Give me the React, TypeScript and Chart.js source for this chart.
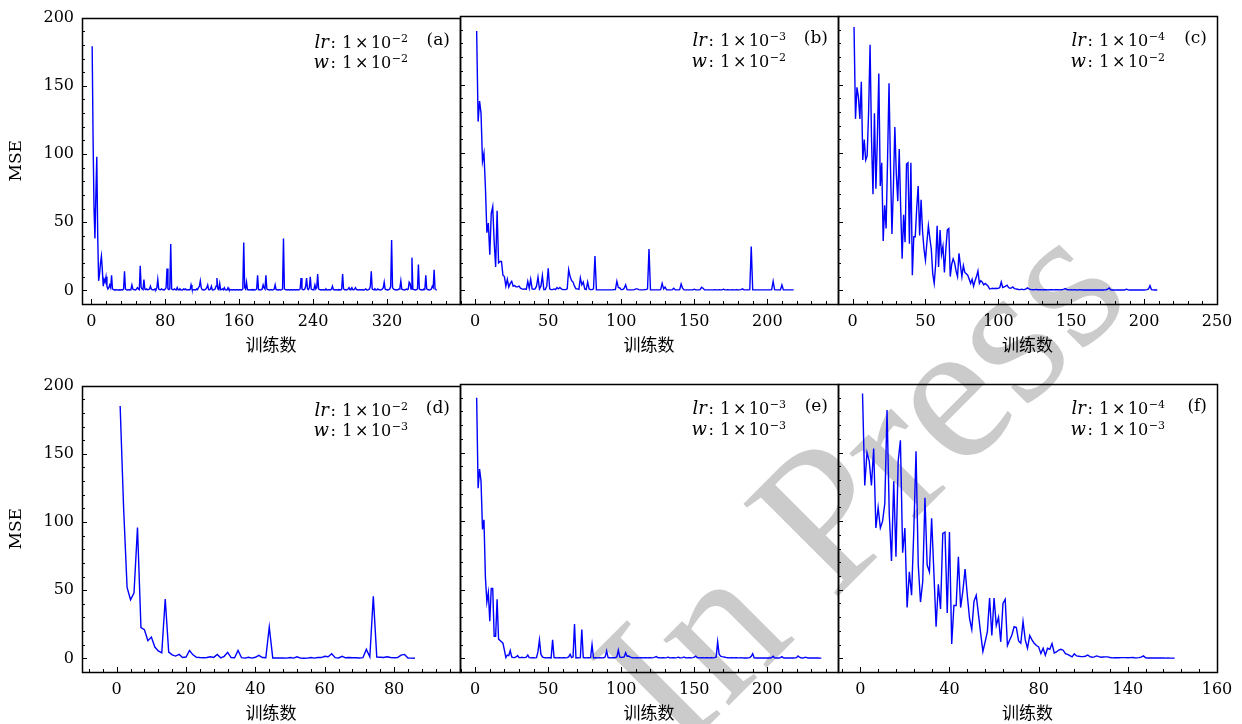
import React, { useEffect, useRef } from 'react';
import { Chart, registerables } from 'chart.js';
Chart.register(...registerables);

// ------------------------- data -------------------------
const mseA = [
  179, 110, 60, 38, 70, 98, 40, 7, 12, 20, 25, 15, 3, 8, 6, 10, 3, 1, 2, 4,
  2, 11, 1, 0.5, 0.3, 0.4, 0.3, 0.5, 0.2, 0.3, 0.4, 0.3, 0.5, 0.3, 1, 14, 1, 0.4, 0.3, 0.5,
  0.3, 0.4, 1, 4, 1, 0.5, 0.4, 0.3, 1, 2, 1, 0.5, 18, 2, 1, 0.5, 8, 1, 0.5, 1,
  0.4, 0.5, 1, 3, 1, 0.4, 0.5, 0.3, 1, 0.5, 2, 8, 1, 0.5, 0.4, 1, 0.5, 0.4, 0.3, 1,
  2, 16, 1, 0.5, 1, 34, 1, 0.5, 0.4, 1, 0.5, 0.3, 2, 0.4, 0.5, 1, 0.5, 0.3, 0.4, 1,
  0.5, 1, 0.4, 0.3, 0.5, 0.4, 0.5, 4, 1, 0.3, 0.5, 0.4, 0.3, 1, 0.5, 2, 3, 7, 2, 0.5,
  0.4, 0.3, 0.5, 1, 2, 4, 0.5, 0.4, 1, 3, 0.4, 0.3, 0.5, 1, 3, 9, 1, 0.5, 5, 0.4,
  0.5, 1, 0.4, 2, 0.5, 0.3, 0.4, 2, 0.5, 0.3, 0.4, 0.5, 0.3, 0.4, 0.5, 0.3, 0.4, 0.5, 0.3, 0.4,
  0.5, 0.3, 0.4, 1, 35, 2, 1, 6, 0.5, 0.4, 0.3, 0.5, 0.4, 0.3, 0.5, 0.4, 0.3, 0.5, 1, 11,
  0.5, 0.4, 0.3, 0.5, 1, 4, 2, 1, 11, 1, 0.5, 0.4, 0.3, 0.5, 0.4, 0.3, 0.5, 1, 4, 0.5,
  0.4, 0.3, 0.5, 0.4, 0.3, 0.5, 1, 38, 1, 0.5, 0.4, 0.3, 0.5, 0.4, 0.3, 0.5, 0.4, 0.3, 0.5, 0.4,
  0.3, 0.5, 0.4, 0.3, 0.5, 1, 9, 1, 0.5, 0.4, 1, 3, 9, 1, 0.5, 2, 10, 1, 0.5, 0.4,
  1, 4, 1, 2, 12, 1, 0.5, 0.4, 0.3, 0.5, 0.4, 0.3, 0.5, 1, 0.4, 0.3, 0.5, 0.4, 0.3, 1,
  3, 0.5, 0.4, 0.3, 0.5, 0.4, 0.3, 0.5, 0.4, 0.3, 1, 12, 1, 0.5, 0.4, 0.3, 0.5, 1, 2, 0.5,
  1, 2, 0.5, 0.4, 1, 2, 0.5, 0.4, 0.3, 0.5, 0.4, 0.3, 0.5, 0.4, 0.3, 0.5, 1, 0.4, 0.3, 0.5,
  1, 3, 14, 1, 0.5, 0.4, 1, 0.5, 0.3, 1, 0.5, 0.4, 0.3, 0.5, 1, 2, 6, 1, 0.5, 0.4,
  0.3, 0.5, 1, 3, 37, 2, 1, 0.5, 0.4, 0.3, 0.5, 0.4, 1, 2, 7, 1, 0.5, 0.4, 0.3, 0.5,
  1, 0.5, 1, 6, 5, 1, 24, 1, 0.5, 0.4, 0.3, 0.5, 1, 19, 1, 0.5, 0.4, 0.3, 0.5, 1,
  1, 11, 1, 0.5, 0.4, 0.3, 0.5, 1, 3, 2, 15, 1, 0.5,
];

const mseB = [
  189, 123, 138, 129, 94, 100, 75, 42, 49, 26, 56, 61, 35, 17, 58, 20, 21, 21, 11, 10,
  3, 8, 2.4, 5, 6.5, 3, 3.5, 2.5, 2.5, 3, 1.5, 1, 0.8, 1, 0.7, 6.5, 1.5, 8, 1, 0.8,
  1, 3, 9.5, 1, 3, 10.7, 0.5, 0.5, 3, 16, 1, 0.5, 0.5, 1, 0.5, 2, 1, 2, 1, 0.5,
  0.5, 0.5, 1, 15, 10, 7, 6, 3, 1, 1, 0.7, 9, 4, 6, 1, 0.5, 6, 1, 0.5, 0.5,
  1, 25, 0.3, 0.3, 0.3, 0.3, 0.3, 0.3, 0.3, 0.3, 0.3, 0.3, 0.3, 0.3, 0.5, 0.5, 6.6, 2, 1.7, 0.5,
  0.5, 1.5, 4, 0.5, 0.3, 0.3, 0.3, 0.3, 0.5, 1, 1, 0.5, 0.3, 0.3, 0.3, 0.5, 0.5, 1, 30, 0.3,
  0.3, 0.3, 0.3, 0.3, 0.3, 0.3, 0.5, 5, 1, 2.4, 0.3, 0.3, 0.3, 0.3, 0.5, 1.5, 0.3, 0.3, 0.3, 0.5,
  4.6, 1.5, 0.3, 0.3, 0.3, 0.3, 0.3, 0.3, 0.3, 0.8, 0.3, 0.3, 0.3, 0.5, 2.2, 1.5, 0.3, 0.3, 0.3, 0.3,
  0.3, 0.3, 0.3, 0.5, 0.3, 0.3, 0.5, 0.3, 0.3, 0.8, 0.3, 0.3, 0.5, 0.3, 0.3, 0.5, 0.3, 0.3, 0.5, 0.3,
  0.3, 0.5, 1, 0.3, 0.3, 0.3, 0.3, 0.5, 32, 0.3, 0.3, 0.3, 0.3, 0.3, 0.3, 0.3, 0.3, 0.3, 0.3, 0.3,
  0.3, 0.3, 0.5, 6.6, 0.5, 0.3, 0.3, 0.3, 0.3, 3.9, 0.3, 0.3, 0.3, 0.3, 0.3, 0.3, 0.3, 0.3,
];

const mseC = [
  192, 125, 148, 141, 125, 152, 95, 110, 95, 98, 130, 179, 110, 70, 129, 74, 110, 158, 76, 93,
  36, 62, 45, 95, 151, 90, 41, 75, 119, 85, 65, 103, 60, 23, 55, 35, 92, 93, 34, 93,
  11, 39, 39, 60, 76, 40, 66, 43, 30, 22, 35, 47, 38, 30, 12, 5, 19, 47, 17, 44,
  26, 32, 13, 30, 44, 45, 10, 19, 23, 20, 14, 10, 27, 18, 10, 18, 13, 12, 11, 8,
  5, 8, 3, 7, 10, 14, 5, 7, 6, 4, 5, 4, 3, 1, 1.2, 1.5, 1.2, 1.5, 1.3, 1.5,
  2, 6, 2, 2.5, 3, 3.7, 2, 1.5, 1.8, 2.4, 1.2, 1, 0.8, 0.6, 0.5, 0.8, 0.5, 0.6, 1, 1.7,
  1, 0.6, 0.5, 0.4, 0.5, 0.6, 0.4, 0.5, 0.4, 0.3, 0.4, 0.5, 0.4, 0.3, 0.4, 0.5, 0.4, 0.3, 0.4, 0.5,
  0.4, 0.3, 0.4, 0.5, 0.8, 1.2, 0.5, 0.4, 0.3, 0.4, 0.3, 0.4, 0.3, 0.2, 0.3, 0.4, 0.3, 0.2, 0.3, 0.2,
  0.3, 0.2, 0.3, 0.2, 0.3, 0.2, 0.3, 0.2, 0.3, 0.2, 0.3, 0.2, 0.3, 0.4, 0.8, 1.7, 0.4, 0.2, 0.3, 0.2,
  0.3, 0.2, 0.3, 0.2, 0.3, 0.2, 0.4, 0.8, 0.3, 0.2, 0.3, 0.2, 0.3, 0.2, 0.3, 0.2, 0.3, 0.2, 0.3, 0.2,
  0.3, 0.5, 1, 3.4, 0.5, 0.3, 0.2, 0.2, 0.2,
];

const mseD = [
  185, 110, 52, 43, 48, 96, 22.5, 21, 13, 15.6, 8.3, 5.4, 4.1, 43.5, 4.6, 2.6, 1.7, 2.9, 0.6, 1,
  5.8, 2.6, 0.8, 0.6, 0.5, 0.6, 1.2, 0.7, 2.8, 0.4, 1.5, 4.4, 0.6, 0.4, 5.8, 0.5, 0.2, 0.8, 0.2, 0.8,
  2.2, 0.6, 0.4, 23, 0.3, 0.3, 0.3, 0.3, 0.2, 0.6, 0.2, 1.2, 0.2, 0.1, 0.2, 0.6, 0.2, 0.6, 0.6, 1.5,
  1.2, 3.4, 0.5, 0.3, 1.5, 0.4, 0.6, 0.5, 0.4, 0.3, 0.5, 6.6, 1, 45.5, 1, 0.8, 0.6, 1.2, 0.6, 0.4,
  0.5, 2.4, 2.9, 0.2, 0.2, 0.1,
];

const mseE = [
  190, 124, 138, 129, 94, 101, 59, 41, 48, 27, 51, 51, 16, 16, 43, 14, 13, 12, 11, 6,
  0.5, 2.4, 2, 5.6, 1, 0.5, 0.6, 1, 2, 0.6, 0.5, 0.7, 0.5, 0.6, 0.8, 2.4, 0.5, 0.3, 0.5, 0.4,
  0.3, 0.5, 5, 13.4, 3, 1, 0.5, 0.4, 0.3, 0.5, 0.4, 0.3, 13.4, 0.5, 0.4, 0.3, 0.5, 0.4, 0.3, 0.5,
  0.4, 0.3, 0.5, 1, 2.9, 0.5, 1, 25, 0.3, 0.4, 0.3, 0.5, 21, 0.5, 0.4, 0.3, 0.5, 0.4, 0.5, 10,
  0.3, 0.4, 0.5, 0.3, 0.4, 0.5, 0.3, 0.4, 1, 5.4, 0.5, 0.4, 0.3, 0.5, 0.4, 0.5, 1, 6, 1, 0.5,
  0.8, 1, 4, 1.5, 1.7, 1, 0.5, 0.4, 0.3, 0.5, 0.4, 0.3, 0.5, 0.4, 0.3, 0.5, 0.4, 0.3, 0.5, 0.4,
  0.3, 0.5, 0.8, 1.2, 0.5, 0.4, 0.3, 0.5, 0.4, 0.3, 0.5, 0.8, 0.4, 0.3, 0.5, 0.4, 0.3, 0.5, 0.8, 0.4,
  0.3, 0.5, 1, 0.4, 0.3, 0.5, 0.4, 0.3, 0.5, 0.8, 1.5, 0.5, 0.4, 0.3, 0.5, 0.4, 0.3, 0.5, 0.4, 0.3,
  0.5, 0.4, 0.3, 0.5, 1, 12, 3, 1.5, 1.2, 1, 0.8, 0.5, 0.4, 0.3, 0.5, 0.4, 0.3, 0.5, 0.4, 0.3,
  0.3, 0.4, 0.3, 0.2, 0.3, 0.2, 0.3, 0.5, 1.5, 3.4, 0.3, 0.2, 0.3, 0.2, 0.3, 0.2, 0.3, 0.2, 0.3, 0.2,
  0.3, 0.2, 0.5, 1.5, 0.3, 0.2, 0.3, 0.2, 0.5, 1.2, 0.3, 0.2, 0.3, 0.2, 0.3, 0.2, 0.3, 0.2, 0.3, 0.5,
  1.7, 0.8, 0.3, 0.2, 0.3, 0.8, 0.5, 0.2, 0.3, 0.2, 0.3, 0.2, 0.3, 0.2, 0.2, 0.1, 0.1,
];

const mseF = [
  193, 126, 150, 144, 126, 153, 95, 110, 95, 100, 113, 181, 105, 71, 129, 74, 144, 159, 77, 95,
  37, 63, 46, 93, 151, 68, 41, 56, 117, 68, 63, 102, 63, 23, 54, 36, 91, 92, 33, 92,
  10.5, 38.5, 38.5, 74, 37, 49, 65, 46, 29, 21, 41.5, 46, 32, 18, 5, 12, 19.5, 44, 16.6, 44,
  24, 30, 12, 40, 43, 9.3, 13.4, 17, 23, 22.4, 12.7, 11, 26.8, 13.4, 7.3, 16.6, 13.4, 11, 9.3, 8.3,
  3.4, 7.3, 2.2, 7.3, 6.6, 10.7, 3.9, 4.6, 6, 6.6, 5.9, 3.4, 2.9, 2, 1, 3.2, 1.7, 1.5, 1.2, 1.3,
  1.5, 2.4, 1.2, 0.8, 1, 1.7, 1.2, 0.8, 0.9, 1, 1, 0.6, 0.3, 0.4, 0.5, 0.4, 0.5, 0.5, 0.5, 0.4,
  0.5, 0.6, 0.4, 0.3, 0.5, 0.8, 1.7, 0.3, 0.2, 0.2, 0.3, 0.2, 0.2, 0.2, 0.2, 0.2, 0.1, 0.2, 0.1, 0.1,
  0.1,
];

const yTickValues = [0, 50, 100, 150, 200];
const yTickLabels = ['0', '50', '100', '150', '200'];

const xTicksA = [0, 80, 160, 240, 320];
const xLabelsA = ['0', '80', '160', '240', '320'];
const xTicksB = [0, 50, 100, 150, 200];
const xLabelsB = ['0', '50', '100', '150', '200'];
const xTicksC = [0, 50, 100, 150, 200, 250];
const xLabelsC = ['0', '50', '100', '150', '200', '250'];
const xTicksD = [0, 20, 40, 60, 80];
const xLabelsD = ['0', '20', '40', '60', '80'];
const xTicksE = [0, 50, 100, 150, 200];
const xLabelsE = ['0', '50', '100', '150', '200'];
const xTicksF = [0, 40, 80, 120, 160];
const xLabelsF = ['0', '40', '80', '140', '160'];

const panelLetters = ['(a)', '(b)', '(c)', '(d)', '(e)', '(f)'];
const lrExponents = ['−2', '−3', '−4', '−2', '−3', '−4'];
const wExponents = ['−2', '−2', '−2', '−3', '−3', '−3'];
const xAxisTitle = '训练数';
const yAxisTitle = 'MSE';
const watermarkText = 'In Press';

// ------------------------- layout / style -------------------------
const FONT = '"DejaVu Serif", "Noto Sans CJK SC", serif';
const COL_L = [82, 460, 838];
const COL_R = [460, 838, 1217];
const ROW_T = [16, 384];
const PLOT_H = 288;
const X_AXIS_H = 56;
const TOP_PAD = 16;

const PANELS = [
  { values: mseA, xMin: -10, xMax: 399, xTicks: xTicksA, xLabels: xLabelsA, step: 80, minor: 16, col: 0, row: 0 },
  { values: mseB, xMin: -10.4, xMax: 248.4, xTicks: xTicksB, xLabels: xLabelsB, step: 50, minor: 10, col: 1, row: 0 },
  { values: mseC, xMin: -10, xMax: 250, xTicks: xTicksC, xLabels: xLabelsC, step: 50, minor: 10, col: 2, row: 0 },
  { values: mseD, xMin: -10, xMax: 99, xTicks: xTicksD, xLabels: xLabelsD, step: 20, minor: 4, col: 0, row: 1 },
  { values: mseE, xMin: -10.4, xMax: 248.4, xTicks: xTicksE, xLabels: xLabelsE, step: 50, minor: 10, col: 1, row: 1 },
  { values: mseF, xMin: -10, xMax: 160, xTicks: xTicksF, xLabels: xLabelsF, step: 40, minor: 8, col: 2, row: 1 },
];

function drawParam(ctx: CanvasRenderingContext2D, right: number, baseline: number, name: string, exp: string) {
  let x = right;
  const put = (text: string, font: string, dy: number, gapAfter: number) => {
    ctx.font = font;
    const w = ctx.measureText(text).width;
    x -= w;
    ctx.fillText(text, x, baseline + dy);
    x -= gapAfter;
  };
  ctx.textAlign = 'left';
  ctx.textBaseline = 'alphabetic';
  put(exp, `11px ${FONT}`, -6, 0.5);
  put('10', `16px ${FONT}`, 0, 2.5);
  put('×', `16px ${FONT}`, 0, 2.5);
  put('1', `16px ${FONT}`, 0, 6.5);
  put(':', `16px ${FONT}`, 0, 1.5);
  put(name, `italic 18px ${FONT}`, 0, 0);
}

const frameTicksPlugin = {
  id: 'frameTicks',
  afterDatasetsDraw(chart: any, _args: any, opts: any) {
    const { ctx, chartArea } = chart;
    const { left, right, top, bottom } = chartArea;
    const xs = chart.scales.x;
    const ys = chart.scales.y;
    ctx.save();
    ctx.strokeStyle = '#000';
    ctx.lineWidth = 1;
    ctx.beginPath();
    // x ticks (inward from bottom)
    const xStart = Math.ceil(xs.min / opts.minor) * opts.minor;
    for (let v = xStart; v <= xs.max + 1e-9; v += opts.minor) {
      const p = Math.round(xs.getPixelForValue(v)) + 0.5;
      if (p <= left + 1 || p >= right - 1) continue;
      const isMajor = opts.xTicks.some((t: number) => Math.abs(t - v) < 1e-6);
      const len = isMajor ? 5 : 3;
      ctx.moveTo(p, bottom);
      ctx.lineTo(p, bottom - len);
    }
    // y ticks (inward from left)
    const yStart = Math.ceil(ys.min / 10) * 10;
    for (let v = yStart; v <= ys.max + 1e-9; v += 10) {
      const p = Math.round(ys.getPixelForValue(v)) + 0.5;
      if (p <= top + 1 || p >= bottom - 1) continue;
      const isMajor = yTickValues.some((t) => Math.abs(t - v) < 1e-6);
      const len = isMajor ? 5 : 3;
      ctx.moveTo(left, p);
      ctx.lineTo(left + len, p);
    }
    ctx.stroke();
    // frame
    ctx.lineWidth = 1.5;
    ctx.strokeRect(Math.round(left) + 0.5, Math.round(top) + 0.5, Math.round(right - left), Math.round(bottom - top));
    // annotations
    ctx.fillStyle = '#000';
    drawParam(ctx, right - 52, top + 30, 'lr', opts.lrExp);
    drawParam(ctx, right - 52, top + 50.5, 'w', opts.wExp);
    ctx.font = `17px ${FONT}`;
    ctx.textAlign = 'right';
    ctx.textBaseline = 'alphabetic';
    ctx.fillText(opts.letter, right - 10, top + 27);
    ctx.restore();
  },
};

function Panel({ p, index }: { p: any; index: number }) {
  const ref = useRef<HTMLCanvasElement | null>(null);
  const first = p.col === 0;
  const padL = first ? 0 : 20;
  const yW = first ? 82 : 0;
  const padR = p.col === 2 ? 25 : 10;
  const left = first ? 0 : COL_L[p.col] - padL;
  const width = (COL_L[p.col] - left) + (COL_R[p.col] - COL_L[p.col]) + padR;
  const top = ROW_T[p.row] - TOP_PAD;
  const height = TOP_PAD + PLOT_H + X_AXIS_H;

  useEffect(() => {
    if (!ref.current) return;
    const chart = new Chart(ref.current, {
      type: 'line',
      data: {
        datasets: [
          {
            data: p.values.map((v: number, i: number) => ({ x: i + 1, y: v })),
            borderColor: '#0000ff',
            borderWidth: 1.4,
            pointRadius: 0,
            fill: false,
            tension: 0,
          },
        ],
      },
      options: {
        responsive: false,
        maintainAspectRatio: false,
        animation: false,
        devicePixelRatio: 1,
        layout: { padding: { left: padL, right: padR, top: TOP_PAD, bottom: 0 } },
        plugins: {
          legend: { display: false },
          tooltip: { enabled: false },
          frameTicks: {
            xTicks: p.xTicks,
            minor: p.minor,
            lrExp: lrExponents[index],
            wExp: wExponents[index],
            letter: panelLetters[index],
          },
        } as any,
        scales: {
          x: {
            type: 'linear',
            position: 'bottom',
            min: p.xMin,
            max: p.xMax,
            grid: { display: false, drawTicks: false },
            border: { display: false },
            ticks: {
              stepSize: p.step,
              includeBounds: false,
              autoSkip: false,
              maxRotation: 0,
              padding: 8,
              color: '#000',
              font: { family: FONT, size: 16 },
              callback: (_v: any, i: number) => p.xLabels[i],
            },
            title: {
              display: true,
              text: xAxisTitle,
              color: '#000',
              font: { family: FONT, size: 17 },
              padding: { top: 0, bottom: 3.5 },
            },
            afterFit: (s: any) => {
              s.height = X_AXIS_H;
            },
          },
          y: {
            type: 'linear',
            min: -10,
            max: 200,
            grid: { display: false, drawTicks: false },
            border: { display: false },
            ticks: {
              display: first,
              stepSize: 50,
              includeBounds: false,
              padding: 8,
              color: '#000',
              font: { family: FONT, size: 16 },
              callback: (_v: any, i: number) => yTickLabels[i],
            },
            title: {
              display: first,
              text: yAxisTitle,
              color: '#000',
              font: { family: FONT, size: 17 },
              padding: { top: 6.5, bottom: 0 },
            },
            afterFit: (s: any) => {
              s.width = yW;
            },
          },
        },
      } as any,
      plugins: [frameTicksPlugin as any],
    });
    return () => chart.destroy();
  }, []);

  return (
    <canvas
      ref={ref}
      width={width}
      height={height}
      style={{ position: 'absolute', left, top, width, height, zIndex: 1, display: 'block' }}
    />
  );
}

export default function App() {
  useEffect(() => {
    document.body.style.margin = '0';
  }, []);
  return (
    <div
      style={{
        position: 'fixed',
        left: 0,
        top: 0,
        width: 1242,
        height: 724,
        overflow: 'hidden',
        background: '#fff',
      }}
    >
      <div
        style={{
          position: 'absolute',
          left: 858,
          top: 480,
          transform: 'translate(-50%, -50%) rotate(-45deg)',
          fontFamily: '"Liberation Serif", serif',
          fontSize: 202,
          lineHeight: 1,
          color: '#cbcbcb',
          whiteSpace: 'nowrap',
          zIndex: 0,
          userSelect: 'none',
        }}
      >
        {watermarkText}
      </div>
      {PANELS.map((p, i) => (
        <Panel key={i} p={p} index={i} />
      ))}
    </div>
  );
}
